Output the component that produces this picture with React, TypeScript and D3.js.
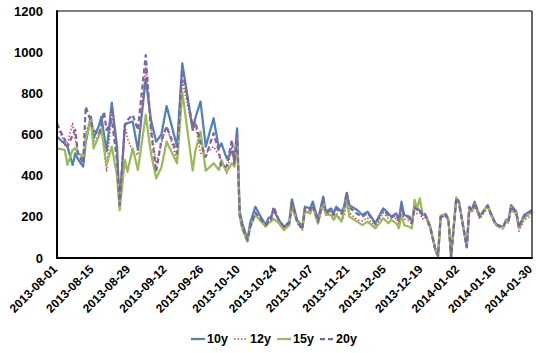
import React from "react";
import * as d3 from "d3";

const dates = [
  "2013-08-01","2013-08-03","2013-08-04","2013-08-05","2013-08-07","2013-08-08","2013-08-09","2013-08-11","2013-08-12","2013-08-14",
  "2013-08-15","2013-08-17","2013-08-18","2013-08-19","2013-08-20","2013-08-22","2013-08-24","2013-08-25","2013-08-27","2013-08-28",
  "2013-08-30","2013-09-01","2013-09-04","2013-09-06","2013-09-08","2013-09-10","2013-09-12","2013-09-16","2013-09-18","2013-09-22",
  "2013-09-23","2013-09-25","2013-09-27","2013-09-30","2013-10-02","2013-10-03","2013-10-05","2013-10-07","2013-10-08","2013-10-09",
  "2013-10-10","2013-10-11","2013-10-13","2013-10-14","2013-10-16","2013-10-18","2013-10-20","2013-10-21","2013-10-22","2013-10-23",
  "2013-10-25","2013-10-27","2013-10-29","2013-10-30","2013-11-01","2013-11-03","2013-11-04","2013-11-06","2013-11-07","2013-11-09",
  "2013-11-11","2013-11-12","2013-11-14","2013-11-15","2013-11-16","2013-11-18","2013-11-19","2013-11-20","2013-11-21","2013-11-24",
  "2013-11-26","2013-11-28","2013-12-01","2013-12-04","2013-12-06","2013-12-07","2013-12-09","2013-12-10","2013-12-11","2013-12-12",
  "2013-12-14","2013-12-15","2013-12-16","2013-12-17","2013-12-18","2013-12-19","2013-12-20","2013-12-21","2013-12-22","2013-12-24",
  "2013-12-25","2013-12-26","2013-12-27","2013-12-28","2013-12-29","2013-12-30","2014-01-01","2014-01-02","2014-01-05","2014-01-06",
  "2014-01-07","2014-01-08","2014-01-10","2014-01-13","2014-01-14","2014-01-16","2014-01-17","2014-01-19","2014-01-20","2014-01-21",
  "2014-01-22","2014-01-24","2014-01-25","2014-01-27","2014-01-29","2014-01-30",
];

const y10 = [
  590,565,555,541,452,509,480,444,560,687,
  582,640,687,600,518,755,541,249,646,655,
  663,525,870,671,565,600,738,541,946,622,
  680,760,541,679,533,557,484,517,480,630,
  225,169,87,169,249,201,160,193,201,233,
  185,149,177,285,185,152,249,241,274,185,
  298,225,241,217,249,225,249,314,257,233,
  209,225,169,241,217,201,217,185,274,209,
  201,177,257,241,230,209,215,185,152,40,
  12,201,204,209,185,8,290,274,55,249,
  233,274,201,257,225,169,160,152,185,185,
  257,225,152,209,225,233,
];

const y12 = [
  630,590,549,560,654,573,520,476,606,687,
  565,600,622,520,419,727,500,282,646,580,
  518,500,929,640,460,557,640,476,865,622,
  646,509,509,541,500,476,411,541,450,590,
  215,150,96,150,209,185,152,180,185,241,
  177,144,165,266,169,136,233,225,249,160,
  257,209,225,190,215,185,200,270,220,185,
  180,195,150,220,190,175,195,165,240,190,
  180,160,230,215,220,190,200,170,140,35,
  10,195,200,200,175,5,285,260,50,235,
  220,250,190,245,210,160,150,140,175,170,
  235,205,130,185,200,205,
];

const y15 = [
  533,528,525,452,525,533,510,492,580,671,
  533,590,630,540,452,541,400,233,476,419,
  533,428,695,509,387,440,565,460,808,424,
  520,614,424,460,428,476,419,460,444,582,
  200,140,79,150,209,180,152,170,177,190,
  169,136,160,249,177,144,225,217,249,169,
  274,209,209,185,209,177,233,282,201,177,
  160,177,144,193,169,185,169,144,209,160,
  152,144,282,241,290,217,210,185,150,40,
  12,205,210,215,190,8,295,270,55,240,
  230,265,205,255,220,165,155,150,180,180,
  245,215,145,195,215,222,
];

const y20 = [
  654,598,575,541,598,622,509,460,735,663,
  622,598,650,711,622,671,476,258,646,670,
  695,622,986,620,419,573,638,509,913,638,
  663,557,492,606,520,444,444,573,460,598,
  215,150,87,150,221,190,160,180,185,249,
  185,152,170,274,177,139,241,233,257,177,
  290,217,233,210,240,215,240,322,245,215,
  200,220,165,235,205,195,210,180,250,205,
  195,170,245,235,240,205,210,180,150,38,
  10,200,205,210,185,6,292,270,52,245,
  230,268,200,255,222,165,158,150,180,182,
  250,220,148,205,220,228,
];

const xTickLabels = [
  "2013-08-01","2013-08-15","2013-08-29","2013-09-12","2013-09-26","2013-10-10","2013-10-24",
  "2013-11-07","2013-11-21","2013-12-05","2013-12-19","2014-01-02","2014-01-16","2014-01-30",
];
const yTicks = [0, 200, 400, 600, 800, 1000, 1200];

const seriesNames = ["10y", "12y", "15y", "20y"];
const seriesValues = [y10, y12, y15, y20];
const seriesColors = ["#4F81BD", "#C0504D", "#9BBB59", "#8064A2"];
const seriesDash = [null, "1.5 2", null, "5 3"];
const seriesWidth = [2.25, 1.5, 2.25, 2.25];

const parse = (s: string) => {
  const [y, m, d] = s.split("-").map(Number);
  return new Date(y, m - 1, d);
};

export default function App() {
  const W = 536, H = 353;
  const left = 57, right = 532, top = 11, bottom = 258;
  const x = d3.scaleTime().domain([parse("2013-08-01"), parse("2014-01-30")]).range([left, right]);
  const y = d3.scaleLinear().domain([0, 1200]).range([bottom, top]);
  const font = "'Liberation Sans', Arial, sans-serif";

  const line = d3.line<[Date, number]>().x(d => x(d[0])).y(d => y(d[1]));

  return (
    <svg width={W} height={H} style={{ position: "absolute", left: 0, top: 0, background: "#fff" }} fontFamily={font}>
      <rect x={0} y={0} width={W} height={H} fill="#fff" />
      {seriesValues.map((vals, i) => (
        <path
          key={i}
          d={line(dates.map((dt, j) => [parse(dt), vals[j]] as [Date, number])) || ""}
          fill="none"
          stroke={seriesColors[i]}
          strokeWidth={seriesWidth[i]}
          strokeDasharray={seriesDash[i] || undefined}
          strokeLinejoin="round"
        />
      ))}
      <line x1={left} y1={top} x2={right} y2={top} stroke="#555" strokeWidth={1.5} />
      <line x1={right} y1={top} x2={right} y2={bottom} stroke="#333" strokeWidth={1.5} />
      <line x1={left} y1={top - 0.75} x2={left} y2={bottom + 1} stroke="#000" strokeWidth={2} />
      <line x1={left} y1={bottom} x2={right + 0.75} y2={bottom} stroke="#000" strokeWidth={2} />
      {yTicks.map(t => (
        <text key={t} x={43} y={y(t)} dy="0.35em" textAnchor="end" fontSize={13} fontWeight="bold" fill="#000">
          {t}
        </text>
      ))}
      {xTickLabels.map(l => {
        const px = x(parse(l));
        return (
          <text
            key={l}
            transform={`translate(${px - 2},${bottom + 9}) rotate(-45)`}
            textAnchor="end"
            fontSize={12}
            fontWeight="bold"
            fill="#000"
            dy="0.35em"
          >
            {l}
          </text>
        );
      })}
      {seriesNames.map((n, i) => {
        const lx = 191 + i * 43;
        const ly = 339;
        return (
          <g key={n}>
            <line x1={lx} y1={ly} x2={lx + 14} y2={ly} stroke={seriesColors[i]} strokeWidth={seriesWidth[i]} strokeDasharray={seriesDash[i] || undefined} />
            <text x={lx + 16} y={ly} dy="0.35em" fontSize={12.5} fontWeight="bold" fill="#000">{n}</text>
          </g>
        );
      })}
    </svg>
  );
}
